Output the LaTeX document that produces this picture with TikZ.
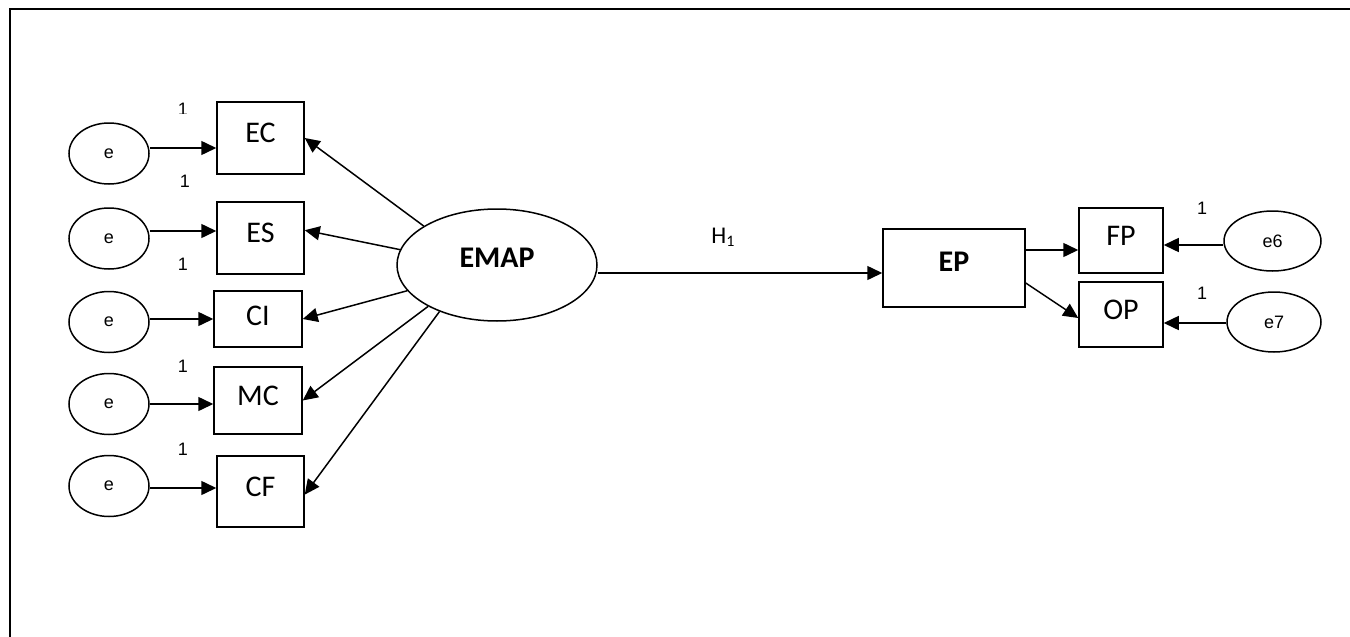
\documentclass[tikz,border=0pt]{standalone}
\usepackage{fontspec}
\setmainfont{Carlito}
\newfontfamily\arialf{Liberation Sans}
\usetikzlibrary{shapes.geometric,arrows.meta,calc}
\begin{document}
\begin{tikzpicture}[x=1pt,y=-1pt,
  lw/.style={line width=1.5pt},
  errell/.style={ellipse,draw,lw,inner sep=0pt,minimum width=80pt,minimum height=61pt,font=\arialf\fontsize{18}{18}\selectfont},
  obsbox/.style={rectangle,draw,lw,inner sep=0pt,minimum width=87pt,minimum height=72pt,text depth=10pt,font=\fontsize{30}{30}\selectfont},
  arr/.style={lw,-{Triangle[length=15pt,width=14pt]}},
  onelab/.style={font=\arialf\fontsize{18}{18}\selectfont,inner sep=0pt}
]
\useasboundingbox (0,0) rectangle (1350,637);
% frame
\draw[line width=2pt] (10,637) -- (10,9) -- (1350,9);

% error ellipses left
\node[errell] (e1) at (109,153.5) {e};
\node[errell] (e2) at (109,238.5) {e};
\node[errell] (e3) at (109,322) {e};
\node[errell] (e4) at (109,404) {e};
\node[errell] (e5) at (109,486) {e};

% observed boxes left
\node[obsbox] (EC) at (260.5,138) {EC\hspace{10pt}};
\node[obsbox] (ES) at (260.5,238) {ES\hspace{12pt}};
\node[obsbox,minimum width=88pt,minimum height=56pt,text depth=6pt] (CI) at (258,319) {CI\hspace{5pt}};
\node[obsbox,minimum width=88pt,minimum height=67pt] (MC) at (258,400.5) {MC};
\node[obsbox,minimum height=71pt] (CF) at (260.5,491.5) {CF\hspace{12pt}};

% latent
\node[ellipse,draw,lw,inner sep=0pt,minimum width=200pt,minimum height=112pt,text depth=14pt,font=\bfseries\fontsize{30}{30}\selectfont] (EMAP) at (497,265) {EMAP};
\node[obsbox,minimum width=142pt,minimum height=78pt,text depth=12pt,font=\bfseries\fontsize{30}{30}\selectfont] (EP) at (954,268) {EP};

% right boxes
\node[obsbox,minimum width=84pt,minimum height=65pt] (FP) at (1121,240.5) {FP};
\node[obsbox,minimum width=84pt,minimum height=65pt] (OP) at (1121,314.5) {OP};
\node[errell,minimum width=97pt,minimum height=60pt] (e6) at (1272.5,241) {e6};
\node[errell,minimum width=94pt,minimum height=60pt] (e7) at (1274,322) {e7};

% error arrows left
\draw[arr] ([yshift=5.5pt]e1.east) -- ([yshift=5.5pt]e1.east -| EC.west);
\draw[arr] ([yshift=7.5pt]e2.east) -- ([yshift=7.5pt]e2.east -| ES.west);
\draw[arr] ([yshift=3pt]e3.east) -- ([yshift=3pt]e3.east -| CI.west);
\draw[arr] (e4.east) -- (e4.east -| MC.west);
\draw[arr] ([yshift=-2pt]e5.east) -- ([yshift=-2pt]e5.east -| CF.west);

% loadings
\draw[arr] (EMAP.152) -- (EC.east);
\draw[arr] (EMAP.171) -- (ES.10);
\draw[arr] (EMAP.196) -- (CI.east);
\draw[arr] (EMAP.211) -- (MC.east);
\draw[arr] (EMAP.219) -- (CF.-4);

% structural path
\draw[arr] ([yshift=-8pt]EMAP.east) -- ([yshift=-8pt]EMAP.east -| EP.west) node[pos=0.44,above=26pt,inner sep=0pt,font=\fontsize{24}{24}\selectfont] (H1) {H\raisebox{-3pt}{\fontsize{16}{16}\selectfont 1}};

% right side
\draw[arr] ([yshift=18pt]EP.east) -- ([yshift=18pt]EP.east -| FP.west);
\draw[arr] ([yshift=-15pt]EP.east) -- ([yshift=-3.5pt]OP.west);
\draw[arr] ([yshift=-4pt]e6.west) -- ([yshift=-4pt]e6.west -| FP.east);
\draw[arr] ([yshift=-1pt]e7.west) -- ([yshift=-1pt]e7.west -| OP.east);

% "1" labels
\begin{scope}
\clip (170,90) rectangle (200,113);
\node[onelab] (l1) at (183,109) {1};
\end{scope}
\node[onelab] (l2) at (185,181) {1};
\node[onelab] (l3) at (183,264) {1};
\node[onelab] (l4) at (183,366) {1};
\node[onelab] (l5) at (183,449) {1};
\node[onelab] (l6) at (1202,208) {1};
\node[onelab] (l7) at (1202,293) {1};
\end{tikzpicture}
\end{document}
